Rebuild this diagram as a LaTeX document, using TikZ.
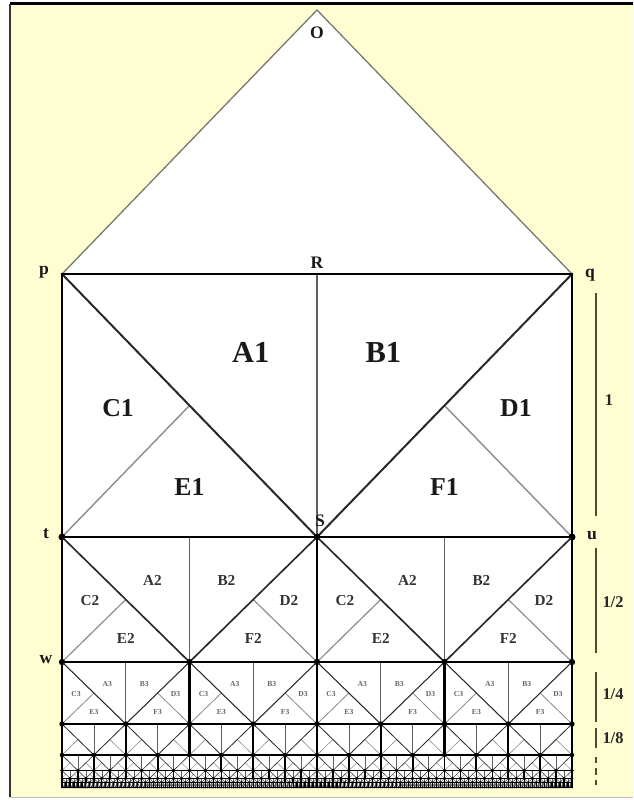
\documentclass[tikz,border=0pt]{standalone}
\usepackage{fontspec}
\setmainfont{Liberation Serif}
\usepackage{tikz}
\usetikzlibrary{positioning,calc}

\definecolor{cream}{RGB}{255,254,210}
\definecolor{diagcol}{RGB}{40,40,40}
\definecolor{subcol}{RGB}{140,140,140}
\definecolor{midcol}{RGB}{95,95,95}
\definecolor{roofcol}{RGB}{120,120,110}
\definecolor{scalecol}{RGB}{80,75,50}

\begin{document}
\begin{tikzpicture}[
  x=0.03cm, y=-0.03cm,
  edgeline/.style={draw=black, line cap=round},
  diagline/.style={draw=diagcol},
  subline/.style={draw=subcol},
  midline/.style={draw=midcol},
  roofline/.style={draw=roofcol, line width=1.1pt},
  scaleline/.style={draw=scalecol, line width=1.1pt},
  ptlabel/.style={font=\fontsize{15}{15}\selectfont\bfseries, text=black!90, inner sep=0pt},
  sclabel/.style={font=\fontsize{14}{14}\selectfont\bfseries, text=black!85, inner sep=0pt}
]
\useasboundingbox (0,0) rectangle (633,800);

% frame and paper
\fill[white] (0,0) rectangle (633,800);
\fill[cream] (10,4) rectangle (633,797);
\draw[black, line width=2.2pt] (10,3.5) -- (633,3.5);
\draw[black!80, line width=1.6pt] (10,3.5) -- (10,797);
\draw[black!25, line width=0.8pt] (10,797) -- (633,797);

% points
\coordinate (O) at (317,10);
\coordinate (p) at (62,274);
\coordinate (q) at (572,274);
\coordinate (R) at (317,274);
\coordinate (S) at (317,537);
\coordinate (t) at (62,537);
\coordinate (u) at (572,537);
\coordinate (w) at (62,662);

\fill[white] (O) -- (q) -- (572,788) -- (62,788) -- (p) -- cycle;
\draw[roofline] (p) -- (O) -- (q);

% rows: top/height/pairs/diagonal/subline/dot/edge
\foreach \yt/\h/\np/\dw/\sw/\dr/\hw in {
    274/263/1/1.7/1.2/3.0/2.4,
    537/125/2/1.4/1.0/2.7/2.2,
    662/62/4/0.9/0.7/2.3/2.0,
    724/31/8/0.7/0.5/1.9/1.8,
    755/15.5/16/0.5/0.4/1.6/1.5,
    770.5/7.8/32/0.4/0.3/1.3/1.3,
    778.3/4.2/64/0.3/0.3/1.0/1.1,
    782.5/5/128/0.3/0.3/0.8/1.0}{
  \pgfmathsetmacro\wp{510/\np}
  \pgfmathsetmacro\yb{\yt+\h}
  \pgfmathsetmacro\ym{\yt+\h/2}
  \foreach \j in {1,...,\np}{
    \pgfmathsetmacro\xa{62+(\j-1)*\wp}
    \pgfmathsetmacro\xm{\xa+\wp/2}
    \pgfmathsetmacro\xb{\xa+\wp}
    \pgfmathsetmacro\xl{\xa+\wp/4}
    \pgfmathsetmacro\xr{\xa+3*\wp/4}
    \draw[midline, line width=\sw pt] (\xm,\yt) -- (\xm,\yb);
    \draw[subline, line width=\sw pt] (\xa,\yb) -- (\xl,\ym);
    \draw[subline, line width=\sw pt] (\xb,\yb) -- (\xr,\ym);
    \draw[diagline, line width=\dw pt] (\xa,\yt) -- (\xm,\yb) -- (\xb,\yt);
    \draw[edgeline, line width=\hw pt] (\xa,\yt) -- (\xa,\yb) (\xb,\yt) -- (\xb,\yb);
  }
  \draw[edgeline, line width=\hw pt] (62,\yt) -- (572,\yt) (62,\yb) -- (572,\yb);
  \pgfmathtruncatemacro\nd{2*\np}
  \foreach \j in {0,...,\nd}{
    \fill[black] ({62+\j*\wp/2},\yb) circle[radius=\dr pt];
  }
}

% region names: top/height/pairs/row/size big/size small/colour/A x/A y
\foreach \yt/\h/\np/\k/\fa/\fc/\tc/\ax/\ay in {
    274/263/1/1/26/22/black!90/0.74/0.30,
    537/125/2/2/13/13/black!80/0.71/0.35,
    662/62/4/3/6.5/6.5/black!60/0.71/0.35}{
  \pgfmathsetmacro\wp{510/\np}
  \pgfmathsetmacro\c{\wp/2}
  \foreach \j in {1,...,\np}{
    \pgfmathsetmacro\xa{62+(\j-1)*\wp}
    \pgfmathsetmacro\xb{\xa+\wp}
    \begin{scope}[every node/.style={inner sep=0pt, text=\tc, font=\fontsize{\fc}{\fc}\selectfont\bfseries}]
      \node[font=\fontsize{\fa}{\fa}\selectfont\bfseries] (A\k-\j) at ({\xa+\ax*\c},{\yt+\ay*\h}) {A\k};
      \node[font=\fontsize{\fa}{\fa}\selectfont\bfseries] (B\k-\j) at ({\xb-\ax*\c},{\yt+\ay*\h}) {B\k};
      \node (C\k-\j) at ({\xa+0.22*\c},{\yt+0.51*\h}) {C\k};
      \node (D\k-\j) at ({\xb-0.22*\c},{\yt+0.51*\h}) {D\k};
      \node (E\k-\j) at ({\xa+0.5*\c},{\yt+0.81*\h}) {E\k};
      \node (F\k-\j) at ({\xb-0.5*\c},{\yt+0.81*\h}) {F\k};
    \end{scope}
  }
}

% point names
\node[ptlabel] (lO) at (317,33) {O};
\node[ptlabel] (lR) at (317,263) {R};
\node[ptlabel] (lp) at (44,272) {p};
\node[ptlabel] (lq) at (590,275) {q};
\node[ptlabel] (lS) at (320,521) {S};
\node[ptlabel] (lt) at (46,534) {t};
\node[ptlabel] (lu) at (592,536) {u};
\node[ptlabel] (lw) at (46,660) {w};

% scale
\draw[scaleline] (596,293) -- (596,516);
\draw[scaleline] (596,548) -- (596,653);
\draw[scaleline] (596,672) -- (596,722);
\draw[scaleline] (596,728) -- (596,748);
\draw[scaleline] (596,757) -- (596,763);
\draw[scaleline] (596,768) -- (596,775);
\draw[scaleline] (596,780) -- (596,785);
\node[sclabel] (s1) at (609,400) {1};
\node[sclabel] (s2) at (613,602) {1/2};
\node[sclabel] (s4) at (613,694) {1/4};
\node[sclabel] (s8) at (613,738) {1/8};
\end{tikzpicture}
\end{document}
